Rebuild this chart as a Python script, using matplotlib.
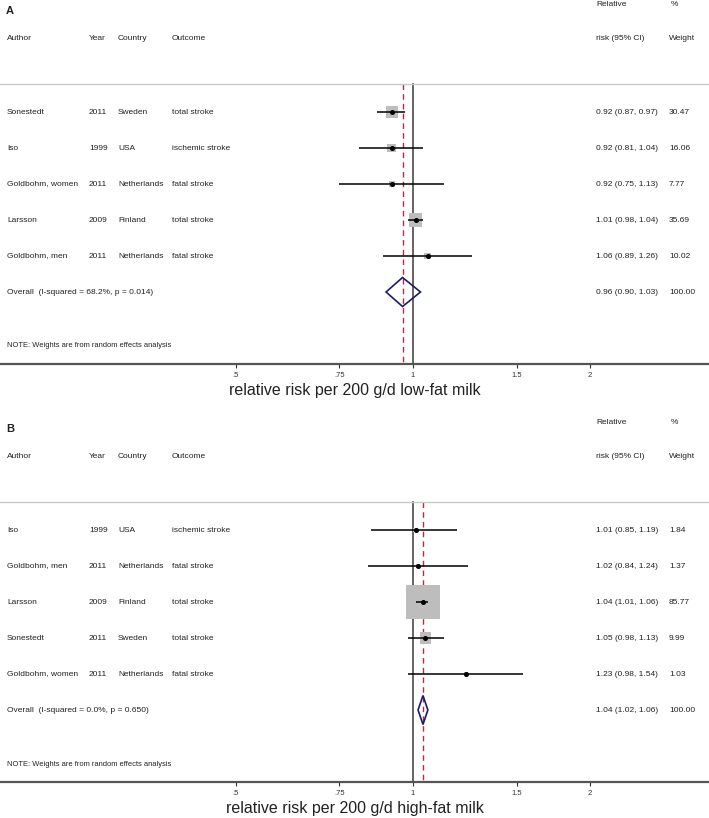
import numpy as np
import matplotlib.pyplot as plt
from matplotlib.transforms import blended_transform_factory

plt.rcParams['font.family'] = ['Liberation Sans', 'DejaVu Sans']

# panel A: low-fat milk
authors_a = ["Sonestedt", "Iso", "Goldbohm, women", "Larsson", "Goldbohm, men"]
years_a = [2011, 1999, 2011, 2009, 2011]
countries_a = ["Sweden", "USA", "Netherlands", "Finland", "Netherlands"]
outcomes_a = ["total stroke", "ischemic stroke", "fatal stroke", "total stroke", "fatal stroke"]
rr_a = [0.92, 0.92, 0.92, 1.01, 1.06]
lo_a = [0.87, 0.81, 0.75, 0.98, 0.89]
hi_a = [0.97, 1.04, 1.13, 1.04, 1.26]
weight_a = [30.47, 16.06, 7.77, 35.69, 10.02]
overall_a = [0.96, 0.90, 1.03]
isq_a, p_a = 68.2, 0.014

# panel B: high-fat milk
authors_b = ["Iso", "Goldbohm, men", "Larsson", "Sonestedt", "Goldbohm, women"]
years_b = [1999, 2011, 2009, 2011, 2011]
countries_b = ["USA", "Netherlands", "Finland", "Sweden", "Netherlands"]
outcomes_b = ["ischemic stroke", "fatal stroke", "total stroke", "total stroke", "fatal stroke"]
rr_b = [1.01, 1.02, 1.04, 1.05, 1.23]
lo_b = [0.85, 0.84, 1.01, 0.98, 0.98]
hi_b = [1.19, 1.24, 1.06, 1.13, 1.54]
weight_b = [1.84, 1.37, 85.77, 9.99, 1.03]
overall_b = [1.04, 1.02, 1.06]
isq_b, p_b = 0.0, 0.650

ticks = [0.5, 0.75, 1, 1.5, 2]
tick_labels = [".5", ".75", "1", "1.5", "2"]

TXT = '#222222'
FS = 6


def col(x):
    return x / 709.0


def draw_panel(ax, label, authors, years, countries, outcomes, rr, lo, hi, weights,
               overall, isq, p, box_k, xlabel):
    ax.set_xscale('log')
    ax.set_xlim(0.1985, 3.187)
    ax.set_ylim(364, 0)
    tr = blended_transform_factory(ax.transAxes, ax.transData)

    ax.text(col(6), 11, label, transform=tr, fontsize=8, fontweight='bold', va='center', color=TXT)
    ax.text(col(596), 4, "Relative", transform=tr, fontsize=FS, va='center', color=TXT)
    ax.text(col(671), 4, "%", transform=tr, fontsize=FS, va='center', color=TXT)
    heads = [(7, "Author"), (89, "Year"), (118, "Country"), (172, "Outcome"),
             (596, "risk (95% CI)"), (669, "Weight")]
    for x, h in heads:
        ax.text(col(x), 39, h, transform=tr, fontsize=FS, va='center', color=TXT)

    ax.axhline(84, color='#c8c8c8', lw=1.0)
    ax.plot([1, 1], [84, 364], color='#4a4a4a', lw=1.2, zorder=1)
    ax.plot([overall[0], overall[0]], [84, 364], color='#b0303f', lw=1.0,
            dashes=(4, 3), zorder=1)

    ys = [112 + 36 * i for i in range(len(rr))]
    sizes = [(0.72 * box_k) ** 2 * w for w in weights]
    ax.scatter(rr, ys, s=sizes, marker='s', color='#bdbdbd', linewidths=0, zorder=2)
    ax.hlines(ys, lo, hi, color='black', lw=1.1, zorder=3)
    ax.plot(rr, ys, 'o', color='black', ms=2.6, zorder=4)

    for i in range(len(rr)):
        y = ys[i]
        ax.text(col(7), y, authors[i], transform=tr, fontsize=FS, va='center', color=TXT)
        ax.text(col(89), y, str(years[i]), transform=tr, fontsize=FS, va='center', color=TXT)
        ax.text(col(118), y, countries[i], transform=tr, fontsize=FS, va='center', color=TXT)
        ax.text(col(172), y, outcomes[i], transform=tr, fontsize=FS, va='center', color=TXT)
        ax.text(col(596), y, "%.2f (%.2f, %.2f)" % (rr[i], lo[i], hi[i]), transform=tr,
                fontsize=FS, va='center', color=TXT)
        ax.text(col(669), y, "%.2f" % weights[i], transform=tr, fontsize=FS, va='center', color=TXT)

    yo = 112 + 36 * len(rr)
    est, olo, ohi = overall
    ax.fill([olo, est, ohi, est, olo], [yo, yo - 14.5, yo, yo + 14.5, yo], fill=False,
            edgecolor='#1c1c6b', lw=1.2, zorder=3)
    ax.text(col(7), yo, "Overall  (I-squared = %.1f%%, p = %.3f)" % (isq, p), transform=tr,
            fontsize=FS, va='center', color=TXT)
    ax.text(col(596), yo, "%.2f (%.2f, %.2f)" % (est, olo, ohi), transform=tr,
            fontsize=FS, va='center', color=TXT)
    ax.text(col(669), yo, "100.00", transform=tr, fontsize=FS, va='center', color=TXT)
    ax.text(col(7), 346, "NOTE: Weights are from random effects analysis", transform=tr,
            fontsize=5.4, va='center', color=TXT)

    ax.set_xticks(ticks)
    ax.set_xticklabels(tick_labels)
    ax.minorticks_off()
    ax.set_yticks([])
    ax.tick_params(axis='x', length=3, width=0.8, pad=2.5, labelsize=5.5, colors='#333333')
    for s in ['top', 'left', 'right']:
        ax.spines[s].set_visible(False)
    ax.spines['bottom'].set_color('#555555')
    ax.spines['bottom'].set_linewidth(1.6)
    ax.text(0.5, 391, xlabel, transform=tr, fontsize=11.5, ha='center', va='center',
            color=TXT, clip_on=False)


fig = plt.figure(figsize=(7.09, 8.18), dpi=100)
ax_a = fig.add_axes([0, 1 - 364 / 818, 1, 364 / 818])
ax_b = fig.add_axes([0, 1 - 782 / 818, 1, 364 / 818])

draw_panel(ax_a, "A", authors_a, years_a, countries_a, outcomes_a, rr_a, lo_a, hi_a,
           weight_a, overall_a, isq_a, p_a, 2.2, "relative risk per 200 g/d low-fat milk")
draw_panel(ax_b, "B", authors_b, years_b, countries_b, outcomes_b, rr_b, lo_b, hi_b,
           weight_b, overall_b, isq_b, p_b, 3.6, "relative risk per 200 g/d high-fat milk")

fig.savefig('out.png', dpi=100)
